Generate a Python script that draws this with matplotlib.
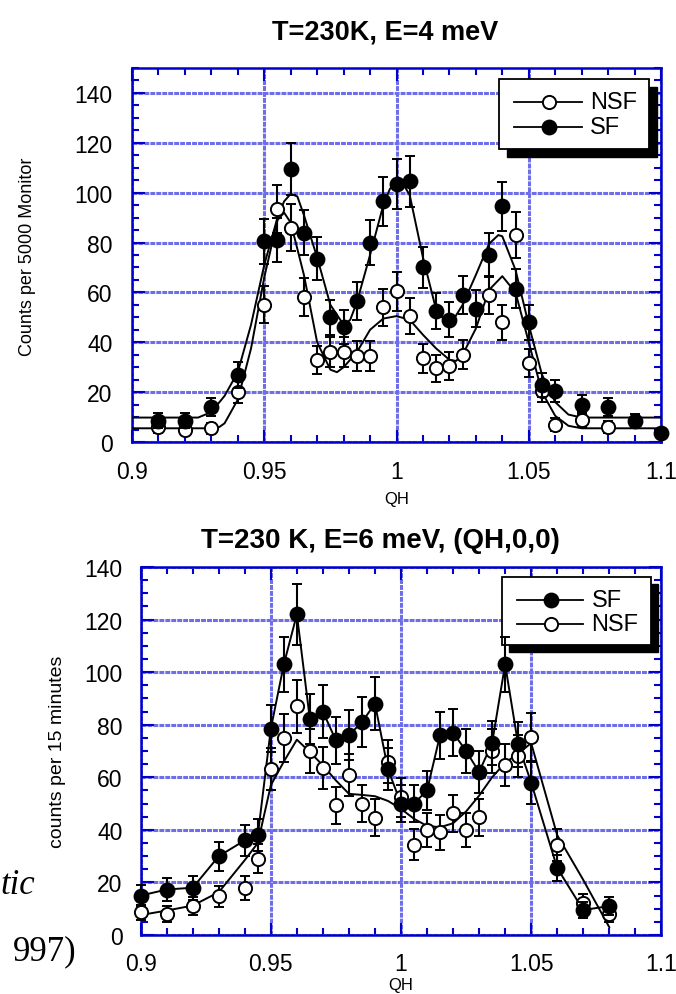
import matplotlib
matplotlib.use('Agg')
import matplotlib.pyplot as plt
from matplotlib.lines import Line2D
from matplotlib.patches import Rectangle
from matplotlib.ticker import FixedLocator, MultipleLocator, FuncFormatter

plt.rcParams['font.family'] = ['Liberation Sans', 'DejaVu Sans']

# ---- T=230K, E=4 meV scan (counts per 5000 monitor)
qh4_sf = [0.91, 0.92, 0.93, 0.94, 0.95, 0.955, 0.96, 0.965, 0.97, 0.975, 0.98, 0.985,
          0.99, 0.995, 1.0, 1.005, 1.01, 1.015, 1.02, 1.025, 1.03, 1.035, 1.04, 1.045,
          1.05, 1.055, 1.06, 1.07, 1.08, 1.09, 1.1]
sf4 = [8.6, 8.6, 14, 27, 80.5, 81, 109.5, 84, 73.5, 50, 46, 56.5,
       80, 96.5, 103.5, 104.5, 70, 52.5, 49, 59, 53.5, 75, 94.5, 61.5,
       48, 23, 20.5, 15, 14, 8.5, 3.5]
sf4_err = [3, 3, 3.7, 5.2, 9, 9, 10.5, 9.2, 8.6, 7, 6.8, 7.5,
           9, 9.8, 10.2, 10.2, 8.4, 7.2, 7, 7.7, 7.3, 8.7, 9.8, 7.8,
           6.9, 4.8, 4.5, 3.9, 3.7, 2.9, 1.9]

qh4_nsf = [0.91, 0.92, 0.93, 0.94, 0.95, 0.955, 0.96, 0.965, 0.97, 0.975, 0.98, 0.985,
           0.99, 0.995, 1.0, 1.005, 1.01, 1.015, 1.02, 1.025, 1.035, 1.04, 1.045, 1.05,
           1.055, 1.06, 1.07, 1.08]
nsf4 = [6, 5, 5.5, 20, 55, 93.5, 86, 58, 33, 36, 36, 34.5,
        34.5, 54, 60.5, 50.5, 33.5, 29.5, 30.5, 35, 59, 48, 83, 31.5,
        20.5, 7, 9, 6]
nsf4_err = [2.4, 2.2, 2.3, 4.5, 7.4, 9.7, 9.3, 7.6, 5.7, 6, 6, 5.9,
            5.9, 7.3, 7.8, 7.1, 5.8, 5.4, 5.5, 5.9, 7.7, 6.9, 9.2, 5.6,
            4.5, 2.6, 3, 2.4]

# fitted curves
fit4_sf_q = [0.9, 0.925, 0.93, 0.935, 0.94, 0.945, 0.95, 0.955, 0.9575, 0.96, 0.9625,
             0.965, 0.97, 0.975, 0.98, 0.9825, 0.985, 0.99, 0.995, 0.9975, 1.0, 1.0025,
             1.005, 1.01, 1.015, 1.02, 1.025, 1.03, 1.035, 1.0385, 1.04, 1.045, 1.05,
             1.055, 1.06, 1.065, 1.07, 1.1]
fit4_sf = [9.8, 9.8, 12, 18.5, 28, 47, 71, 90, 96.5, 99.5, 98.5,
           91, 74, 55, 47, 49, 56, 75, 95, 101.5, 104, 103.5,
           99, 74, 53, 46.5, 55, 67, 79.5, 83, 82.5, 69, 47,
           27, 16, 11, 9.8, 9.8]
fit4_nsf_q = [0.9, 0.93, 0.933, 0.935, 0.94, 0.945, 0.95, 0.955, 0.9575, 0.96, 0.965,
              0.97, 0.975, 0.9775, 0.98, 0.985, 0.99, 0.995, 1.0, 1.005, 1.01, 1.015,
              1.02, 1.0225, 1.025, 1.03, 1.035, 1.04, 1.045, 1.05, 1.055, 1.06, 1.065,
              1.07, 1.1]
fit4_nsf = [5.5, 5.5, 6, 7.5, 17, 37.5, 66, 89, 92, 88, 67,
            40, 29, 28, 30, 36, 45, 49.5, 50.5, 49, 43, 37.5,
            33, 32.5, 35, 45.5, 61, 66.5, 60, 40, 20, 10.5, 6.5,
            5.5, 5.5]

# ---- T=230 K, E=6 meV scan along (QH,0,0) (counts per 15 minutes)
qh6 = [0.9, 0.91, 0.92, 0.93, 0.94, 0.945, 0.95, 0.955, 0.96, 0.965, 0.97, 0.975,
       0.98, 0.985, 0.99, 0.995, 1.0, 1.005, 1.01, 1.015, 1.02, 1.025, 1.03, 1.035,
       1.04, 1.045, 1.05, 1.06, 1.07, 1.08]
sf6 = [15, 17.3, 18, 30, 36, 38, 78.5, 103, 122, 82, 85, 74,
       76, 81, 88, 63, 50, 50, 55, 76, 77, 70, 62, 73,
       103, 72.5, 58, 25.5, 9.5, 11]
sf6_err = [4, 4.2, 4.5, 5.5, 6, 6.2, 9, 10.5, 11.5, 9.5, 10, 9,
           9.5, 9.5, 10, 8, 7, 7, 7.5, 9, 9, 8.5, 8, 8.5,
           10.5, 8.5, 8, 5, 3.2, 3.4]
nsf6 = [8.6, 8, 11, 14.7, 18, 29, 63, 75, 87, 70, 63.5, 49.3,
        61, 50, 44.6, 66, 52.4, 34.4, 40, 39, 46.3, 40, 44.8, 70,
        64.8, 68, 75.3, 34.3, 12, 8]
nsf6_err = [3, 3, 3.5, 4, 4.5, 5.5, 8, 9, 10, 8.5, 8, 7,
            8, 7, 7, 8, 7.5, 6, 6.5, 6.5, 7, 6.5, 7, 8.5,
            8, 8, 9, 6, 3.5, 3]

# smoothed NSF trace
line6_nsf_q = [0.9, 0.91, 0.92, 0.93, 0.94, 0.945, 0.95, 0.955, 0.96, 0.965, 0.97, 0.975,
               0.98, 0.985, 0.99, 0.995, 1.0, 1.005, 1.01, 1.015, 1.02, 1.025, 1.03, 1.035,
               1.04, 1.045, 1.05, 1.06, 1.07, 1.08]
line6_nsf = [7.6, 9.3, 11.2, 16.3, 28.5, 35, 57, 66, 74.3, 69.6, 64.5, 58.8,
             53.7, 53.3, 52.8, 51, 48, 44.2, 41.5, 41, 42.5, 47, 53, 60,
             65.5, 69, 73, 38, 21, 3]

qh_ticks = [0.9, 0.95, 1.0, 1.05, 1.1]

FRAME = '#0000c8'
GRID = '#6e6ee8'
W, H = 676, 995


def style_axes(ax, ymax, xpad, ypad):
    ax.set_xlim(0.9, 1.1)
    ax.set_ylim(0, ymax)
    ax.xaxis.set_major_locator(FixedLocator(qh_ticks))
    ax.xaxis.set_minor_locator(MultipleLocator(0.01))
    ax.xaxis.set_major_formatter(FuncFormatter(lambda v, p: '{:g}'.format(round(v, 3))))
    ax.yaxis.set_major_locator(MultipleLocator(20))
    ax.yaxis.set_minor_locator(MultipleLocator(5))
    ax.tick_params(which='both', direction='in', top=True, right=True,
                   color=FRAME, width=1.5)
    ax.tick_params(which='major', length=9, labelsize=16.5)
    ax.tick_params(which='minor', length=5)
    ax.tick_params(axis='x', pad=xpad)
    ax.tick_params(axis='y', pad=ypad)
    for s in ax.spines.values():
        s.set_color(FRAME)
        s.set_linewidth(1.8)
    ax.set_axisbelow(True)
    ax.grid(True, which='major', color=GRID, lw=2.2, ls=(0, (1.6, 0.35)))


def points(ax, q, y, err, filled, z):
    eb = ax.errorbar(q, y, yerr=err, fmt='o', color='k', ms=10 if filled else 9.5,
                     mfc='k' if filled else 'white', mec='k', mew=1.4,
                     ecolor='k', elinewidth=1.5, capsize=3.5, capthick=1.5, zorder=z)
    for art in [eb[0], *eb[1], *eb[2]]:
        art.set_clip_on(False)


def key(ax, entries, box, rows, shadow):
    x0, x1, y0, y1 = box
    dx, dy = shadow
    ax.add_patch(Rectangle((x0 + dx, y0 - dy), x1 - x0, y1 - y0, transform=ax.transAxes,
                           facecolor='k', edgecolor='k', zorder=2.4, clip_on=False))
    ax.add_patch(Rectangle((x0, y0), x1 - x0, y1 - y0, transform=ax.transAxes,
                           facecolor='white', edgecolor='k', lw=1.3, zorder=2.5, clip_on=False))
    for (label, filled), yr in zip(entries, rows):
        ax.add_line(Line2D([0.722, 0.850], [yr, yr], transform=ax.transAxes,
                           color='k', lw=1.3, zorder=2.6))
        ax.add_line(Line2D([0.788], [yr], transform=ax.transAxes, marker='o',
                           ms=10 if filled else 9.5, mfc='k' if filled else 'white',
                           mec='k', mew=1.4, zorder=2.7))
        ax.text(0.866, yr, label, transform=ax.transAxes, va='center', ha='left',
                fontsize=17, zorder=2.7)


fig = plt.figure(figsize=(W / 100, H / 100), dpi=100)

# top panel
ax1 = fig.add_axes([132 / W, 1 - 443 / H, 529 / W, 374 / H])
style_axes(ax1, 150, 13, 14)
ax1.plot(fit4_nsf_q, fit4_nsf, color='k', lw=1.4, zorder=3)
ax1.plot(fit4_sf_q, fit4_sf, color='k', lw=1.4, zorder=3)
points(ax1, qh4_nsf, nsf4, nsf4_err, False, 4)
points(ax1, qh4_sf, sf4, sf4_err, True, 5)
key(ax1, [('NSF', False), ('SF', True)], (0.694, 0.977, 0.783, 0.971),
    (0.909, 0.842), (0.015, 0.021))
fig.text(385 / W, 1 - 32 / H, 'T=230K, E=4 meV', ha='center', va='center',
         fontsize=19.5, fontweight='bold')
fig.text(396.5 / W, 1 - 500 / H, 'QH', ha='center', va='center', fontsize=12)
fig.text(27.5 / W, 1 - 257 / H, 'Counts per 5000 Monitor', ha='center', va='center',
         rotation=90, fontsize=13)

# bottom panel
ax2 = fig.add_axes([140.7 / W, 1 - 936 / H, 520.6 / W, 368 / H])
style_axes(ax2, 140, 12.5, 13)
ax2.plot(line6_nsf_q, line6_nsf, color='k', lw=1.4, zorder=3)
ax2.plot(qh6, sf6, color='k', lw=1.4, zorder=3)
points(ax2, qh6, nsf6, nsf6_err, False, 4)
points(ax2, qh6, sf6, sf6_err, True, 5)
key(ax2, [('SF', True), ('NSF', False)], (0.694, 0.980, 0.788, 0.973),
    (0.911, 0.845), (0.014, 0.020))
fig.text(380 / W, 1 - 541 / H, 'T=230 K, E=6 meV, (QH,0,0)', ha='center', va='center',
         fontsize=20, fontweight='bold')
fig.text(401 / W, 1 - 986 / H, 'QH', ha='center', va='center', fontsize=12)
fig.text(57.5 / W, 1 - 752 / H, 'counts per 15 minutes', ha='center', va='center',
         rotation=90, fontsize=14)

# text of the page running in from the left margin
fig.text(35 / W, 1 - 894 / H, 'tic', ha='right', va='baseline', fontsize=25,
         family=['Liberation Serif', 'DejaVu Serif'], style='italic')
fig.text(76 / W, 1 - 960 / H, '997)', ha='right', va='baseline', fontsize=25,
         family=['Liberation Serif', 'DejaVu Serif'])

fig.savefig('out.png', dpi=100)
